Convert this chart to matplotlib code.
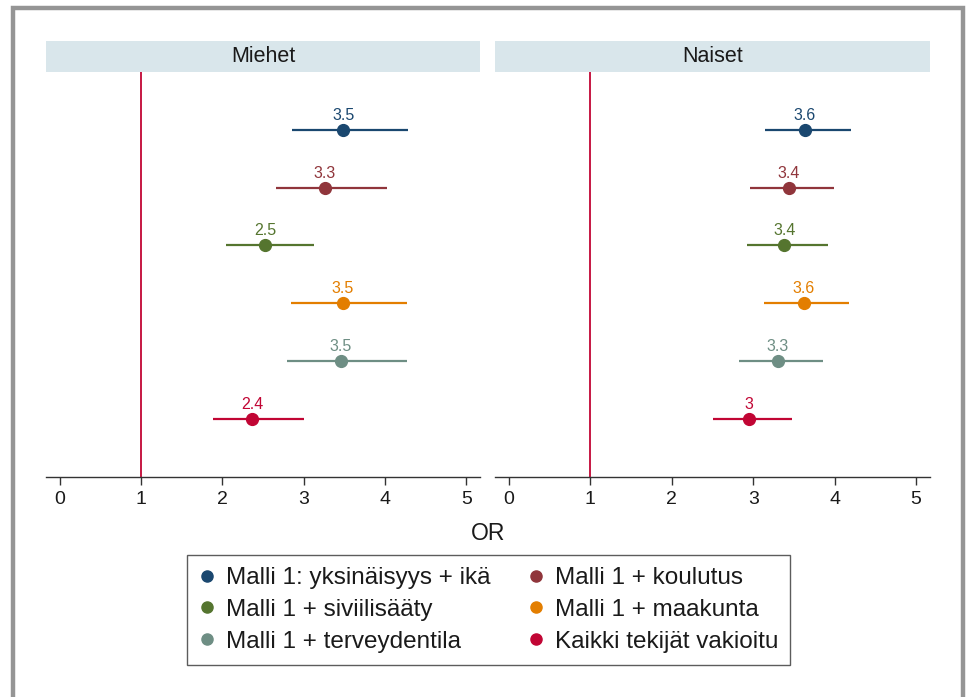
import matplotlib
matplotlib.use("Agg")
import matplotlib.pyplot as plt
from matplotlib.lines import Line2D
from matplotlib.patches import Rectangle

plt.rcParams['font.family'] = ['Liberation Sans', 'DejaVu Sans']

# Models (one row each) and their colours
models = [
    "Malli 1: yksinäisyys + ikä",
    "Malli 1 + koulutus",
    "Malli 1 + siviilisääty",
    "Malli 1 + maakunta",
    "Malli 1 + terveydentila",
    "Kaikki tekijät vakioitu",
]
colors = ["#1a476f", "#90353b", "#55752f", "#e37e00", "#6e8e84", "#c10534"]

panels = ["Miehet", "Naiset"]

# Odds ratios with 95 % confidence limits
or_men = [3.49, 3.26, 2.53, 3.48, 3.46, 2.37]
lo_men = [2.86, 2.66, 2.04, 2.84, 2.80, 1.88]
hi_men = [4.28, 4.02, 3.13, 4.27, 4.27, 3.01]

or_women = [3.63, 3.44, 3.38, 3.62, 3.30, 2.95]
lo_women = [3.14, 2.96, 2.92, 3.13, 2.83, 2.51]
hi_women = [4.20, 3.99, 3.92, 4.18, 3.86, 3.47]

xticks = [0, 1, 2, 3, 4, 5]

W, H = 969, 697
fig = plt.figure(figsize=(W / 100, H / 100), dpi=100)


def fx(px):
    return px / W


def fy(py):
    return 1 - py / H


# outer frame
frame_col = "#959595"
fig.patches.append(Rectangle((fx(13), fy(710)), fx(950), 710 / H - 8 / H,
                             transform=fig.transFigure, fill=False,
                             edgecolor=frame_col, linewidth=3.2, zorder=0))

ax_top, ax_bot = 72, 476.7
strip_top = 41
panel_x = [(46, 480), (495, 930)]
data = [(or_men, lo_men, hi_men), (or_women, lo_women, hi_women)]

for (x0, x1), title, (est, lo, hi) in zip(panel_x, panels, data):
    ax = fig.add_axes([fx(x0), fy(ax_bot), fx(x1 - x0), (ax_bot - ax_top) / H])
    # strip header
    fig.patches.append(Rectangle((fx(x0), fy(ax_top)), fx(x1 - x0), (ax_top - strip_top) / H,
                                 transform=fig.transFigure, facecolor="#d9e6eb",
                                 edgecolor="none"))
    fig.text(fx((x0 + x1) / 2), fy((ax_top + strip_top) / 2 + 0.5), title,
             ha="center", va="center", fontsize=15.5, color="#1a1a1a")

    ax.axvline(1, color="#c10534", linewidth=1.3, zorder=1)
    for i, (e, l, h, c) in enumerate(zip(est, lo, hi, colors)):
        y = i + 1
        ax.plot([l, h], [y, y], color=c, linewidth=1.6, solid_capstyle="butt", zorder=2)
        ax.plot(e, y, "o", color=c, markersize=8.5, zorder=3)
        ax.annotate(f"{round(e, 1):g}", (e, y), xytext=(0, 5.0),
                    textcoords="offset points", ha="center", va="bottom",
                    fontsize=11.5, color=c)

    ax.set_xlim(-0.17, 5.17)
    ax.set_ylim(7.0, 0.0)
    ax.set_xticks(xticks)
    ax.set_xticklabels([str(t) for t in xticks])
    ax.set_yticks([])
    for s in ("left", "right", "top"):
        ax.spines[s].set_visible(False)
    ax.spines["bottom"].set_color("#333333")
    ax.spines["bottom"].set_linewidth(1.0)
    ax.tick_params(axis="x", direction="out", length=6, width=1.0,
                   color="#333333", labelsize=14, labelcolor="#1a1a1a", pad=4)
    ax.patch.set_alpha(0)

fig.text(fx(488), fy(533), "OR", ha="center", va="center", fontsize=16.5, color="#1a1a1a")

# legend, filled row by row
handles = [Line2D([], [], marker="o", linestyle="none", color=c, markersize=8) for c in colors]
order = [0, 2, 4, 1, 3, 5]
leg = fig.legend([handles[i] for i in order], [models[i] for i in order],
                 ncol=2, loc="center", bbox_to_anchor=(fx(488.5), fy(610)),
                 frameon=True, fancybox=False, fontsize=17.5, handletextpad=0.4,
                 columnspacing=1.55, labelspacing=0.4, borderpad=0.5,
                 handlelength=0.7, borderaxespad=0)
leg.get_frame().set_edgecolor("#333333")
leg.get_frame().set_linewidth(1.0)
for t in leg.get_texts():
    t.set_color("#1a1a1a")

fig.savefig("out.png", dpi=100, facecolor="white")
